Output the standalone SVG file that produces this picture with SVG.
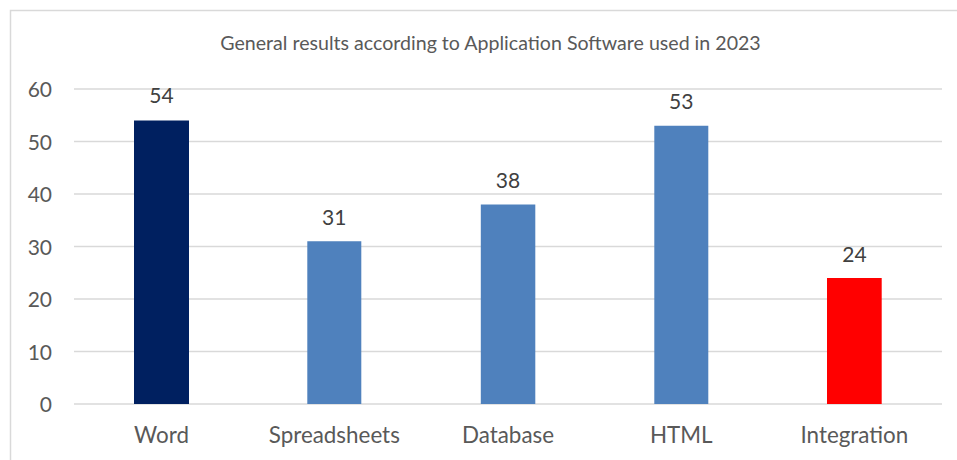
<svg xmlns="http://www.w3.org/2000/svg" width="957" height="460" viewBox="0 0 957 460">
<style>
.grid{stroke:#d9d9d9;stroke-width:1.5}
.ax{font-family:Lato,"Liberation Sans",sans-serif;font-size:21px;fill:#595959}
.yl{text-anchor:end}
.cat{text-anchor:middle;font-size:22.4px}
.dl{font-family:Lato,"Liberation Sans",sans-serif;font-size:21px;fill:#404040;text-anchor:middle}
.title{font-family:Lato,"Liberation Sans",sans-serif;font-size:19.6px;fill:#595959;text-anchor:middle}
</style>
<rect x="0" y="0" width="957" height="460" fill="#ffffff"/>
<path d="M10.5,470 V10.5 H960" fill="none" stroke="#d9d9d9" stroke-width="1.5"/>
<text class="title" x="490.5" y="50">General results according to Application Software used in 2023</text>
<g id="grid">
<line class="grid" x1="74" y1="89" x2="942" y2="89"/>
<line class="grid" x1="74" y1="141.5" x2="942" y2="141.5"/>
<line class="grid" x1="74" y1="194" x2="942" y2="194"/>
<line class="grid" x1="74" y1="246.5" x2="942" y2="246.5"/>
<line class="grid" x1="74" y1="299" x2="942" y2="299"/>
<line class="grid" x1="74" y1="351.5" x2="942" y2="351.5"/>
<line class="grid" x1="74" y1="404" x2="942" y2="404"/>
</g>
<g id="yaxis">
<text class="ax yl" x="52" y="97">60</text>
<text class="ax yl" x="52" y="149.5">50</text>
<text class="ax yl" x="52" y="202">40</text>
<text class="ax yl" x="52" y="254.5">30</text>
<text class="ax yl" x="52" y="307">20</text>
<text class="ax yl" x="52" y="359.5">10</text>
<text class="ax yl" x="52" y="412">0</text>
</g>
<g id="bar-word">
<rect x="134" y="120.5" width="55" height="283.5" fill="#002060"/>
<text class="dl" x="161.5" y="103">54</text>
<text class="ax cat" x="161.5" y="443">Word</text>
</g>
<g id="bar-spreadsheets">
<rect x="307.3" y="241.25" width="54" height="162.75" fill="#4f81bd"/>
<text class="dl" x="334.3" y="224.5">31</text>
<text class="ax cat" x="334.3" y="443">Spreadsheets</text>
</g>
<g id="bar-database">
<rect x="480.8" y="204.5" width="54.5" height="199.5" fill="#4f81bd"/>
<text class="dl" x="508" y="188">38</text>
<text class="ax cat" x="508" y="443">Database</text>
</g>
<g id="bar-html">
<rect x="654.3" y="125.75" width="54" height="278.25" fill="#4f81bd"/>
<text class="dl" x="681.3" y="109">53</text>
<text class="ax cat" x="681.3" y="443">HTML</text>
</g>
<g id="bar-integration">
<rect x="827" y="278" width="54.7" height="126" fill="#ff0000"/>
<text class="dl" x="854.4" y="261.5">24</text>
<text class="ax cat" x="854.4" y="443">Integration</text>
</g>
</svg>
